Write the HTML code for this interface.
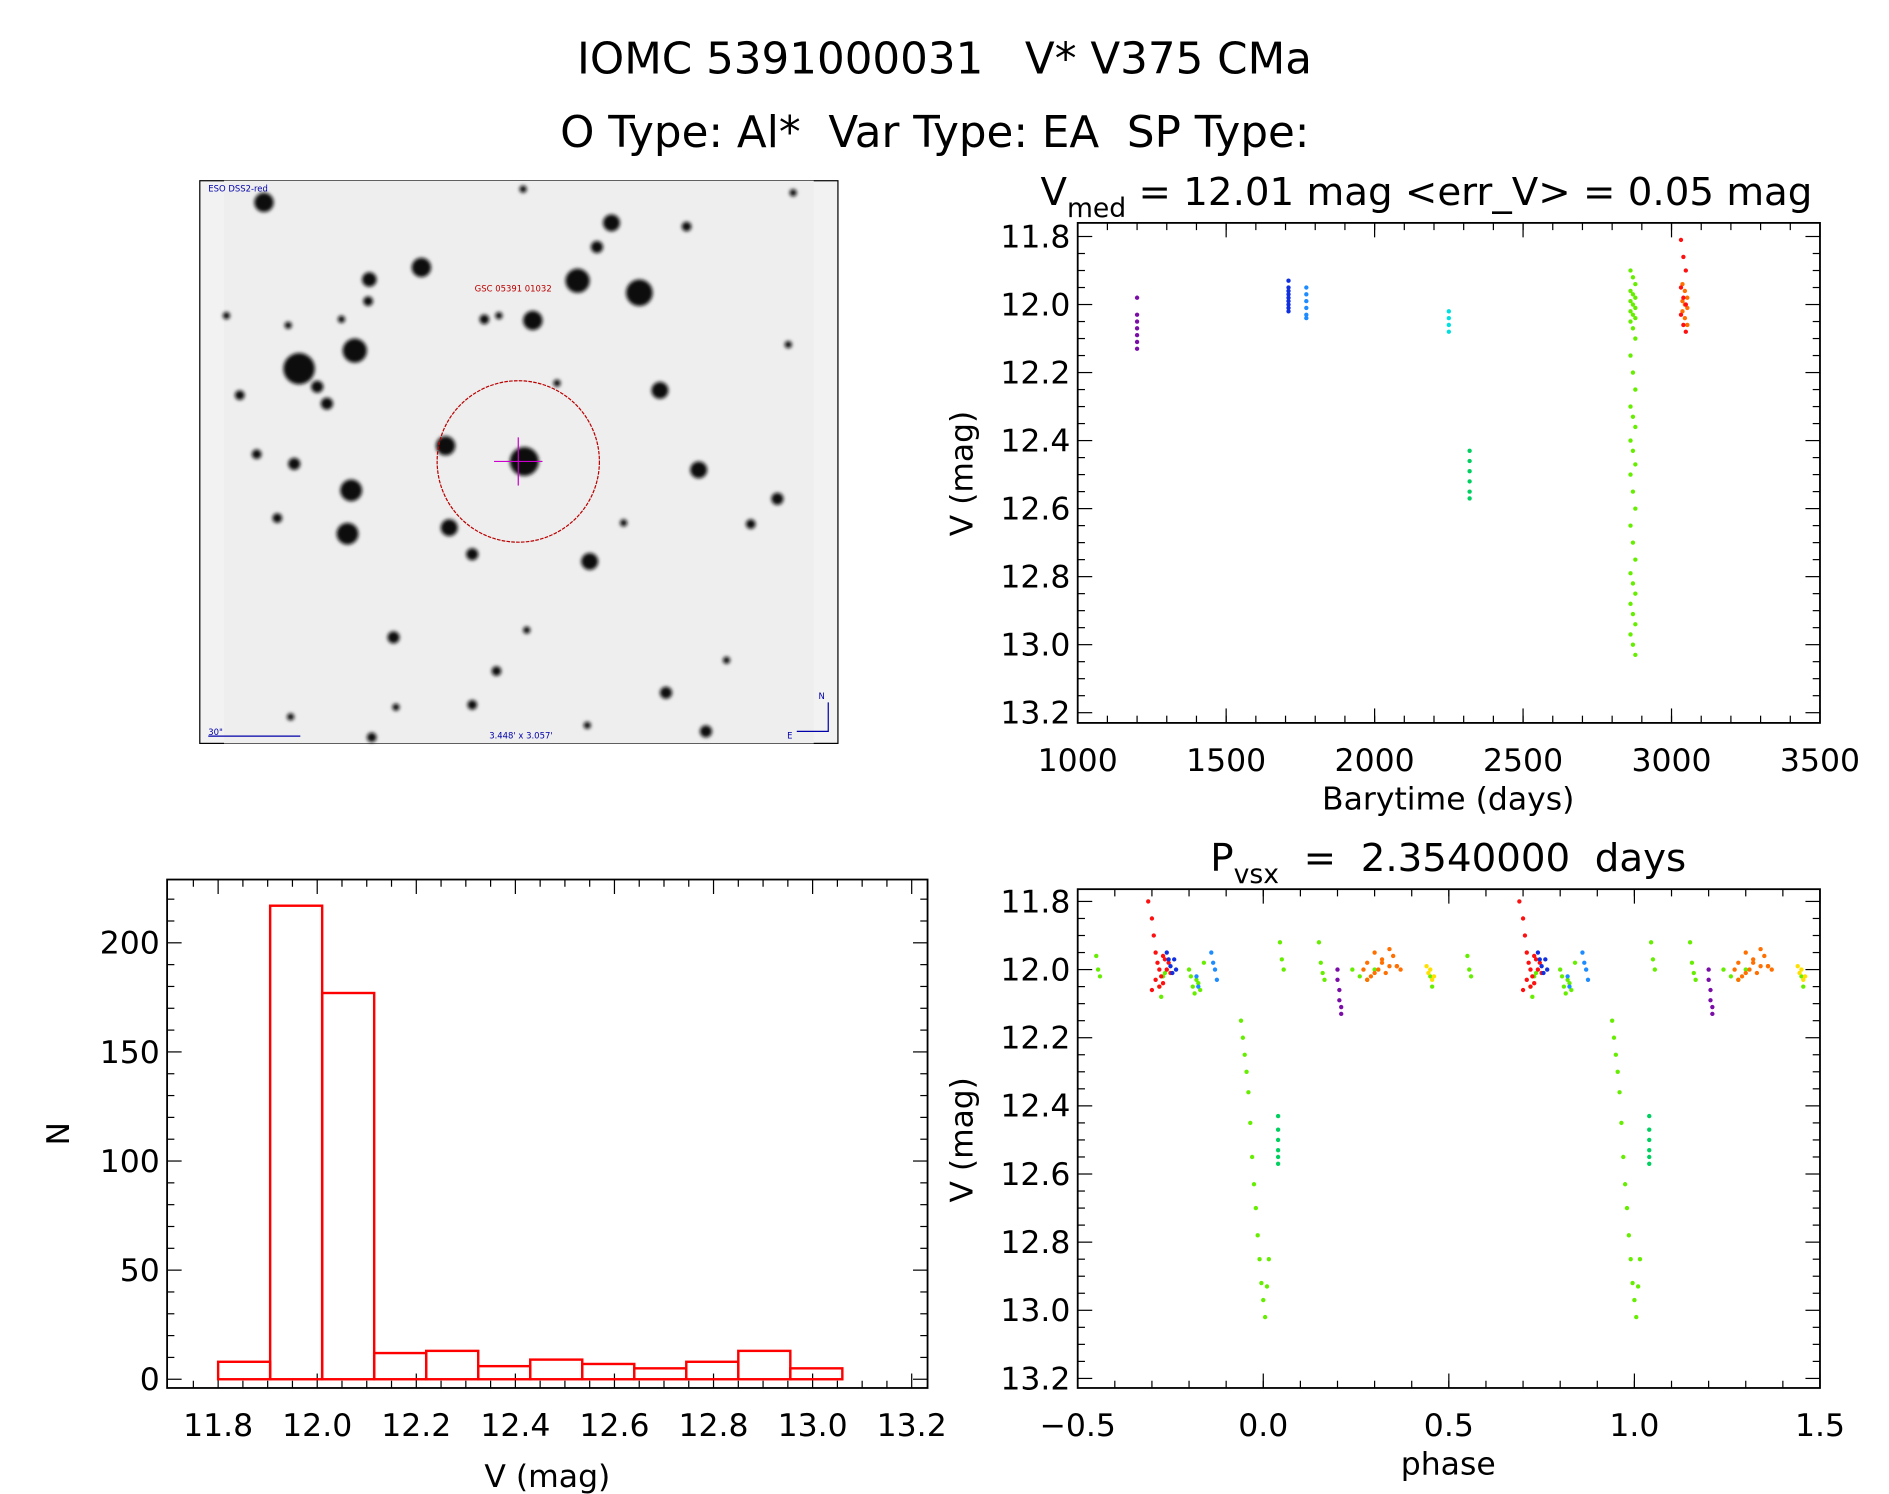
<!DOCTYPE html>
<html><head><meta charset="utf-8"><style>
html,body{margin:0;padding:0;background:#fff}
svg{display:block}
text{font-family:"DejaVu Sans","Liberation Sans",sans-serif;fill:#000;white-space:pre}
</style></head><body>
<svg id="fig" width="1889" height="1494" viewBox="0 0 1560 1240" preserveAspectRatio="none" xmlns="http://www.w3.org/2000/svg" xml:space="preserve">
<defs>
<filter id="blur"><feGaussianBlur stdDeviation="1.6"/></filter>
</defs>
<text x="780" y="61" font-size="36" text-anchor="middle">IOMC 5391000031   V* V375 CMa</text>
<text x="772" y="122" font-size="36" text-anchor="middle">O Type: Al*  Var Type: EA  SP Type:</text>

<g id="img">
<rect x="165" y="150" width="527" height="467" fill="#f2f2f2" stroke="#000" stroke-width="1"/>
<rect x="185" y="150" width="487" height="467" fill="#eeeeee"/>
<g id="stars" filter="url(#blur)" fill="#111"></g>
<circle cx="428" cy="383" r="67" fill="none" stroke="#b00" stroke-width="1" stroke-dasharray="3,1"/>
<line x1="428" y1="363" x2="428" y2="403" stroke="#c0c" stroke-width="1"/>
<line x1="408" y1="383" x2="448" y2="383" stroke="#c0c" stroke-width="1"/>
<text x="172" y="159" font-size="7" style="fill:#00a">ESO DSS2-red</text>
<text x="392" y="242" font-size="7" style="fill:#b00">GSC 05391 01032</text>
<text x="172" y="610" font-size="7" style="fill:#00a">30"</text>
<line x1="172" y1="611" x2="248" y2="611" stroke="#00a"/>
<text x="404" y="613" font-size="7" style="fill:#00a">3.448' x 3.057'</text>
<path d="M684 583 V607 H658" fill="none" stroke="#00a"/>
<text x="676" y="580" font-size="7" style="fill:#00a">N</text>
<text x="650" y="613" font-size="7" style="fill:#00a">E</text>
</g>

<g id="lc"></g>
<g id="ph"></g>
<g id="hist"></g>
</svg>
<script>
const NS="http://www.w3.org/2000/svg";
function mk(p,tag,a,txt){const e=document.createElementNS(NS,tag);for(const k in a)e.setAttribute(k,a[k]);if(txt!==undefined)e.textContent=txt;p.appendChild(e);return e;}

const starList=[[218,168,8],[432,157,3],[505,185,7],[567,188,4],[493,205,5],[655,160,3],[348,222,8],[305,232,6],[477,233,10],[528,243,11],[304,250,4],[440,266,8],[400,265,4],[412,262,3],[238,270,3],[293,291,10],[247,306,13],[262,321,5],[270,335,5],[198,328,4],[545,324,7],[460,318,3],[368,370,8],[433,383,12],[577,390,7],[212,377,4],[243,385,5],[290,407,9],[229,430,4],[371,438,7],[287,443,9],[390,460,5],[487,466,7],[642,414,5],[620,435,4],[515,434,3],[651,286,3],[325,529,5],[435,523,3],[410,557,4],[550,575,5],[583,607,5],[390,585,4],[327,587,3],[307,612,4],[240,595,3],[485,602,3],[282,265,3],[187,262,3],[600,548,3]];
const sg=document.getElementById('stars');
starList.forEach(s=>{const c=mk(sg,'circle',{cx:s[0],cy:s[1],r:s[2]});

});

function axes(g,box,xr,yr,xt,yt,xfmt,yfmt,xminor,yminor){
 const [L,T,R,B]=box;
 const X=v=>L+(v-xr[0])/(xr[1]-xr[0])*(R-L);
 const Y=v=>T+(v-yr[0])/(yr[1]-yr[0])*(B-T);
 const fr=mk(g,'rect',{x:L,y:T,width:R-L,height:B-T,fill:'none',stroke:'#000','stroke-width':1.5});
 
 
 xt.forEach(v=>{const x=X(v);mk(g,'line',{x1:x,y1:B,x2:x,y2:B-12,stroke:'#000'});mk(g,'line',{x1:x,y1:T,x2:x,y2:T+12,stroke:'#000'});
  const t=mk(g,'text',{x:x,y:B+40,'font-size':26,'text-anchor':'middle'},xfmt(v));
  
  });
 xminor.forEach(v=>{const x=X(v);mk(g,'line',{x1:x,y1:B,x2:x,y2:B-6,stroke:'#000'});mk(g,'line',{x1:x,y1:T,x2:x,y2:T+6,stroke:'#000'});});
 yt.forEach(v=>{const y=Y(v);mk(g,'line',{x1:L,y1:y,x2:L+12,y2:y,stroke:'#000'});mk(g,'line',{x1:R,y1:y,x2:R-12,y2:y,stroke:'#000'});
  const t=mk(g,'text',{x:L-6,y:y+9,'font-size':26,'text-anchor':'end'},yfmt(v));
  
  });
 yminor.forEach(v=>{const y=Y(v);mk(g,'line',{x1:L,y1:y,x2:L+6,y2:y,stroke:'#000'});mk(g,'line',{x1:R,y1:y,x2:R-6,y2:y,stroke:'#000'});});
 return {X,Y};
}
function range(a,b,s){const r=[];for(let v=a;v<=b+1e-9;v+=s)r.push(+v.toFixed(4));return r;}
const f1=v=>v.toFixed(1);

const lcColors=['#7a0ca8','#1030e0','#1e8cff','#00e0e0','#00d060','#66ee00','#ff7000','#ff1010'];
const lcTimes=[1200,1710,1770,2250,2320,2870,3045,3040];
const lcMags=[
 [11.98,12.03,12.05,12.07,12.09,12.11,12.13],
 [11.93,11.95,11.96,11.97,11.98,11.99,12.0,12.01,12.02],
 [11.95,11.97,11.99,12.01,12.03,12.04],
 [12.02,12.04,12.06,12.08],
 [12.43,12.46,12.49,12.52,12.55,12.57],
 [11.9,11.92,11.94,11.96,11.97,11.98,11.99,12.0,12.01,12.02,12.03,12.04,12.05,12.07,12.1,12.15,12.2,12.25,12.3,12.33,12.36,12.4,12.43,12.47,12.5,12.55,12.6,12.65,12.7,12.75,12.79,12.82,12.85,12.88,12.91,12.94,12.97,13.0,13.03],
 [11.94,11.96,11.98,11.99,12.0,12.01,12.02,12.04,12.06],
 [11.81,11.86,11.9,11.95,11.98,12.0,12.03,12.06,12.08]
];
const lcTimeTicks=[1000,1500,2000,2500,3000,3500];
const magTicks=[11.8,12.0,12.2,12.4,12.6,12.8,13.0,13.2];
(function(){
 const g=document.getElementById('lc');
 const a=axes(g,[890,185,1503,600],[1000,3500],[11.76,13.23],lcTimeTicks,magTicks,v=>String(v),f1,range(1100,3400,100),range(11.85,13.2,0.05).filter(v=>Math.abs((v*10)%2)>0.01));
 lcMags.forEach((arr,i)=>arr.forEach((m,j)=>{
  const dx=(i===5||i>=6)?(j%3-1)*2:0;
  const c=mk(g,'circle',{cx:a.X(lcTimes[i])+dx,cy:a.Y(m),r:1.8,fill:lcColors[i]});
  
  }));
 let t=mk(g,'text',{x:1178,y:170,'font-size':32,'text-anchor':'middle'});t.innerHTML='V<tspan font-size="22" dy="10">med</tspan><tspan dy="-10"> = 12.01 mag &lt;err_V&gt; = 0.05 mag</tspan>';
 
 t=mk(g,'text',{x:1196,y:672,'font-size':26,'text-anchor':'middle'},'Barytime (days)');
 
 t=mk(g,'text',{x:803,y:393,'font-size':26,'text-anchor':'middle',transform:'rotate(-90 803 393)'},'V (mag)');
 
})();

const phColors=['#66ee00','#ff1010','#1030e0','#1e8cff','#7a0ca8','#ff7000','#ffe000','#00d060'];
const phPhases=[
 [-0.45,-0.445,-0.44,-0.28,-0.275,-0.27,-0.265,-0.2,-0.195,-0.19,-0.185,-0.18,-0.175,-0.17,-0.16,0.045,0.05,0.055,0.15,0.155,0.16,0.165,0.24,0.26,0.28,0.3,0.45,0.455,-0.06,-0.055,-0.05,-0.045,-0.04,-0.035,-0.03,-0.025,-0.02,-0.015,-0.01,-0.005,0.0,0.005,0.01,0.015],
 [-0.31,-0.3,-0.295,-0.29,-0.285,-0.28,-0.275,-0.27,-0.265,-0.26,-0.255,-0.25,-0.3,-0.29,-0.28,-0.27],
 [-0.26,-0.255,-0.25,-0.245,-0.24,-0.235],
 [-0.14,-0.135,-0.13,-0.125,-0.18,-0.175],
 [0.2,0.2,0.205,0.205,0.21,0.21],
 [0.27,0.28,0.29,0.3,0.31,0.32,0.33,0.34,0.35,0.36,0.37,0.28,0.3,0.32,0.34,0.36],
 [0.44,0.445,0.45,0.455,0.46],
 [0.04,0.04,0.04,0.04,0.04,0.04]
];
const phMags=[
 [11.96,12.0,12.02,12.05,12.08,12.02,12.01,12.0,12.02,12.05,12.07,12.03,12.04,12.06,11.98,11.92,11.97,12.0,11.92,11.98,12.01,12.03,12.0,12.02,12.03,12.0,12.02,12.05,12.15,12.2,12.25,12.3,12.36,12.45,12.55,12.63,12.7,12.78,12.85,12.92,12.97,13.02,12.93,12.85],
 [11.8,11.85,11.9,11.95,11.98,12.0,12.02,12.04,11.97,12.0,11.98,12.01,12.06,12.03,12.05,11.96],
 [11.95,11.97,11.99,12.01,11.97,12.0],
 [11.95,11.98,12.0,12.03,12.02,12.05],
 [12.0,12.03,12.06,12.09,12.11,12.13],
 [12.0,11.98,12.02,11.95,12.0,11.97,12.01,11.99,11.96,11.99,12.0,12.03,12.01,11.98,11.94,11.99],
 [11.99,12.01,12.0,12.03,12.02],
 [12.43,12.47,12.5,12.53,12.55,12.57]
];
const phaseTicks=[-0.5,0.0,0.5,1.0,1.5];
(function(){
 const g=document.getElementById('ph');
 const a=axes(g,[890,738,1503,1152],[-0.5,1.5],[11.764,13.228],phaseTicks,magTicks,v=>v<0?'\u2212'+Math.abs(v).toFixed(1):v.toFixed(1),f1,range(-0.4,1.4,0.1),range(11.85,13.2,0.05).filter(v=>Math.abs((v*10)%2)>0.01));
 phPhases.forEach((arr,i)=>arr.forEach((p,j)=>{[0,1].forEach(k=>{
  const c=mk(g,'circle',{cx:a.X(p+k),cy:a.Y(phMags[i][j]),r:1.8,fill:phColors[i]});
  
  });}));
 let t=mk(g,'text',{x:1196,y:723,'font-size':32,'text-anchor':'middle'});t.innerHTML='P<tspan font-size="22" dy="10">vsx</tspan><tspan dy="-10">  =  2.3540000  days</tspan>';
 
 t=mk(g,'text',{x:1196,y:1224,'font-size':26,'text-anchor':'middle'},'phase');
 
 t=mk(g,'text',{x:803,y:946,'font-size':26,'text-anchor':'middle',transform:'rotate(-90 803 946)'},'V (mag)');
 
})();

const binStarts=[11.8,11.905,12.01,12.115,12.22,12.325,12.43,12.535,12.64,12.745,12.85,12.955];
const binWidth=0.105;
const counts=[8,217,177,12,13,6,9,7,5,8,13,5];
const histXTicks=[11.8,12.0,12.2,12.4,12.6,12.8,13.0,13.2];
const histYTicks=[0,50,100,150,200];
(function(){
 const g=document.getElementById('hist');
 const a=axes(g,[138,730,766,1152],[11.697,13.232],[229,-4],histXTicks,histYTicks,f1,v=>String(v),range(11.75,13.2,0.05).filter(v=>Math.abs((v*10)%2)>0.01),range(10,220,10).filter(v=>v%50));
 binStarts.forEach((s,i)=>{const x0=a.X(s),x1=a.X(s+binWidth),y=a.Y(counts[i]),y0=a.Y(0);
  const r=mk(g,'rect',{x:x0,y:y,width:x1-x0,height:y0-y,fill:'none',stroke:'#f00','stroke-width':2});
  
  });
 let t=mk(g,'text',{x:452,y:1234,'font-size':26,'text-anchor':'middle'},'V (mag)');
 
 t=mk(g,'text',{x:57,y:941,'font-size':26,'text-anchor':'middle',transform:'rotate(-90 57 941)'},'N');
 
})();
</script>
</body></html>
